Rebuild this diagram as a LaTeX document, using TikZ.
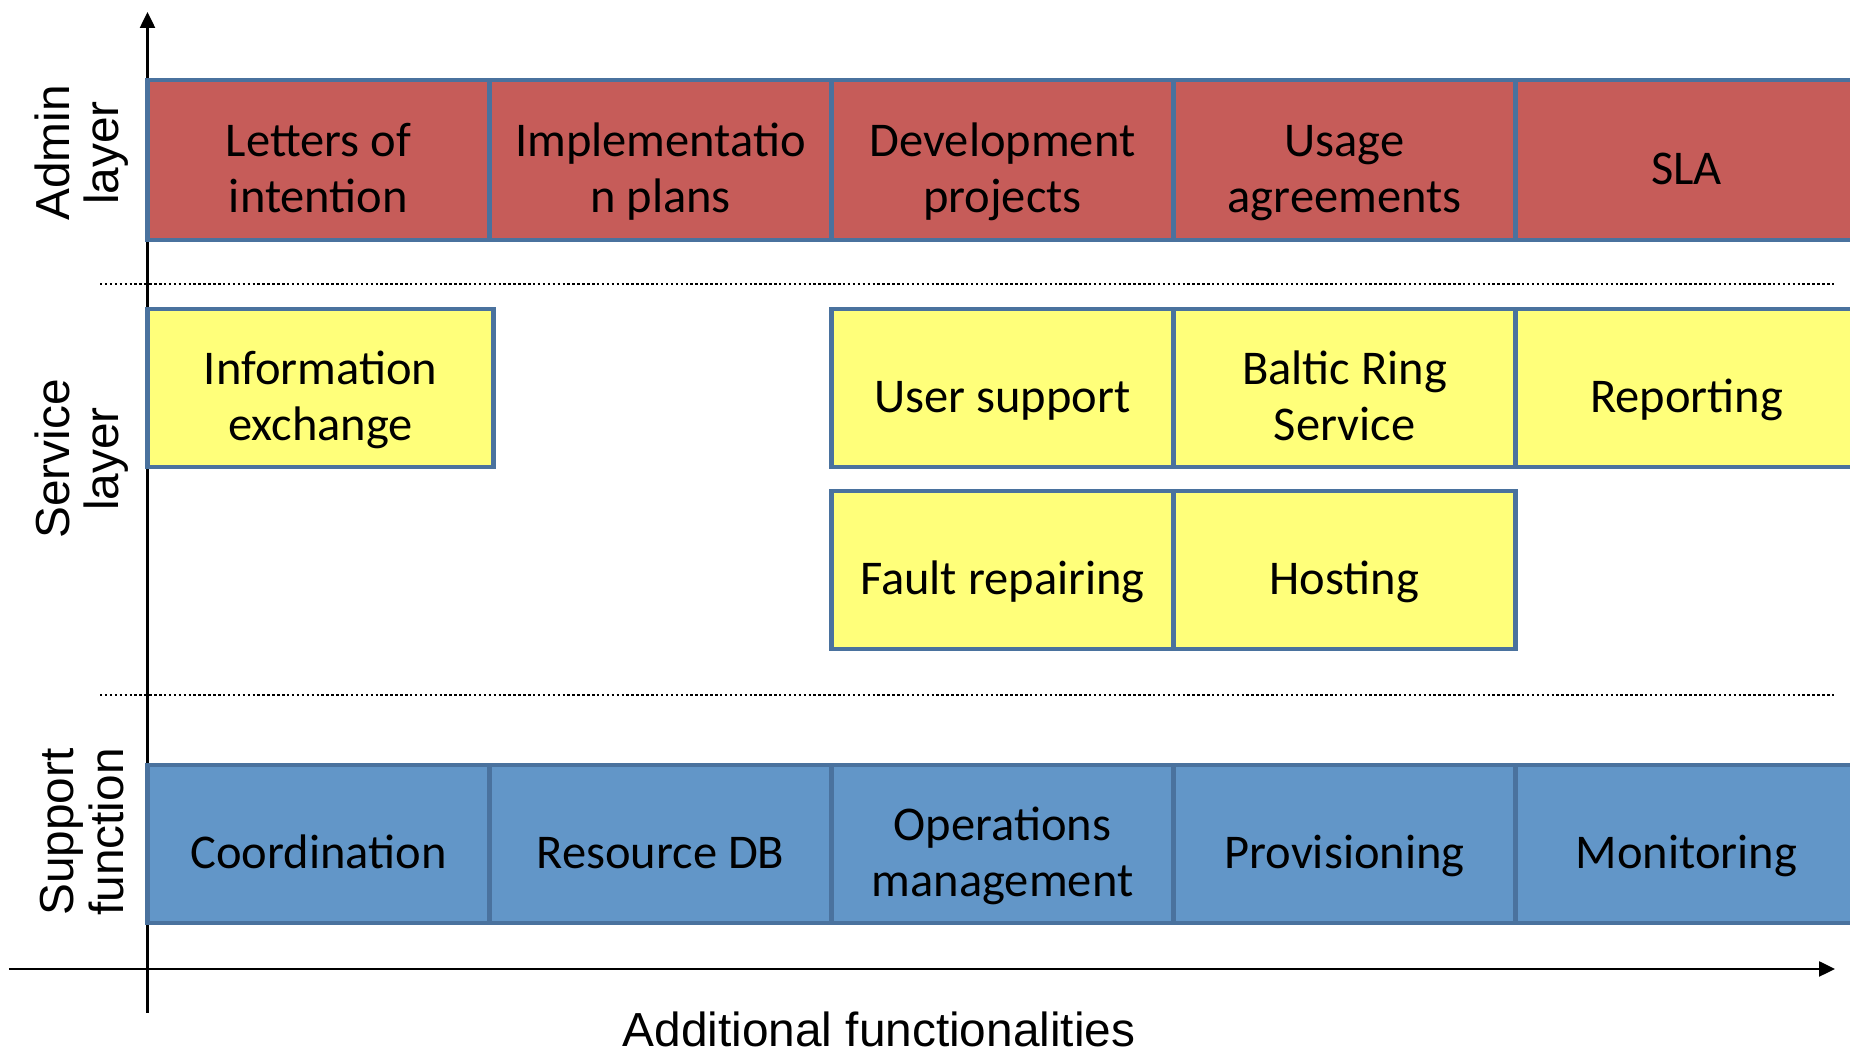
\documentclass[tikz,border=0pt]{standalone}
\usepackage{fontspec}
\setmainfont{Carlito}
\newfontfamily\arialfont{Liberation Sans}
\usetikzlibrary{positioning}
\usetikzlibrary{arrows.meta}
\definecolor{adminred}{RGB}{198,92,89}
\definecolor{serviceyellow}{RGB}{255,255,122}
\definecolor{supportblue}{RGB}{98,150,200}
\definecolor{boxborder}{RGB}{74,114,158}

\begin{document}
\begin{tikzpicture}[node distance=0pt,
				box/.style={rectangle,draw=boxborder,line width=1.4pt,outer sep=0pt,
					inner sep=2pt,minimum width=3.42cm,minimum height=1.58cm,align=center,
					font=\fontsize{13.8}{16}\selectfont,
					execute at begin node={\rule{0pt}{17pt}},
					execute at end node={\rule[-3.2pt]{0pt}{0pt}}},
				two lines/.style={execute at begin node={\rule{0pt}{33pt}}},
				admin box/.style={box,fill=adminred,minimum height=1.6cm},
				service box/.style={box,fill=serviceyellow},
				support box/.style={box,fill=supportblue},
				layer label/.style={rotate=90,align=center,
					font=\arialfont\fontsize{13.6}{14}\selectfont},
				axis line/.style={line width=0.7pt,-{Triangle[length=1.6mm,width=1.5mm]}},
				sep line/.style={line width=0.6pt,dash pattern=on 0.7pt off 0.7pt}]
				
				\clip (0,0) rectangle (18.5,10.54);
				
				\coordinate (ybot) at (1.475,0.41);
				\coordinate (ytop) at (1.475,10.42);
				\coordinate (xleft) at (0.09,0.85);
				\coordinate (xright) at (18.35,0.85);
				\draw[axis line] (ybot) -- (ytop);
				\draw[axis line] (xleft) -- (xright);
				
				\coordinate (sepAl) at (1.0,7.70);
				\coordinate (sepAr) at (18.35,7.70);
				\coordinate (sepBl) at (1.0,3.59);
				\coordinate (sepBr) at (18.35,3.59);
				\draw[sep line] (sepAl) -- (sepAr);
				\draw[sep line] (sepBl) -- (sepBr);
				
				% admin layer
				\node[admin box,two lines,anchor=north west] (letters) at (1.475,9.74) {Letters of\\intention};
				\node[admin box,two lines] (plans) [right=of letters] {Implementatio\\n plans};
				\node[admin box,two lines] (projects) [right=of plans] {Development\\projects};
				\node[admin box,two lines] (usage) [right=of projects] {Usage\\agreements};
				\node[admin box] (sla) [right=of usage] {SLA};
				
				% service layer
				\node[service box,two lines,anchor=north west,minimum width=3.46cm] (info) at (1.475,7.45) {Information\\exchange};
				\node[service box,anchor=north west] (user) at (8.315,7.45) {User support};
				\node[service box,two lines] (baltic) [right=of user] {Baltic Ring\\Service};
				\node[service box] (reporting) [right=of baltic] {Reporting};
				\node[service box] (fault) [below=0.24cm of user] {Fault repairing};
				\node[service box] (hosting) [right=of fault] {Hosting};
				
				% support function
				\node[support box,anchor=north west] (coord) at (1.475,2.89) {Coordination};
				\node[support box] (resdb) [right=of coord] {Resource DB};
				\node[support box,two lines] (ops) [right=of resdb] {Operations\\management};
				\node[support box] (prov) [right=of ops] {Provisioning};
				\node[support box] (monitor) [right=of prov] {Monitoring};
				
				\node[layer label] (adminlbl) at (0.82,9.01) {Admin\\layer};
				\node[layer label] (servicelbl) at (0.82,5.95) {Service\\layer};
				\node[layer label] (supportlbl) at (0.82,2.22) {Support\\function};
				\node[anchor=base,font=\arialfont\fontsize{13.6}{14}\selectfont] (xlabel) at (8.79,0.07) {Additional functionalities};
			\end{tikzpicture}
\end{document}
